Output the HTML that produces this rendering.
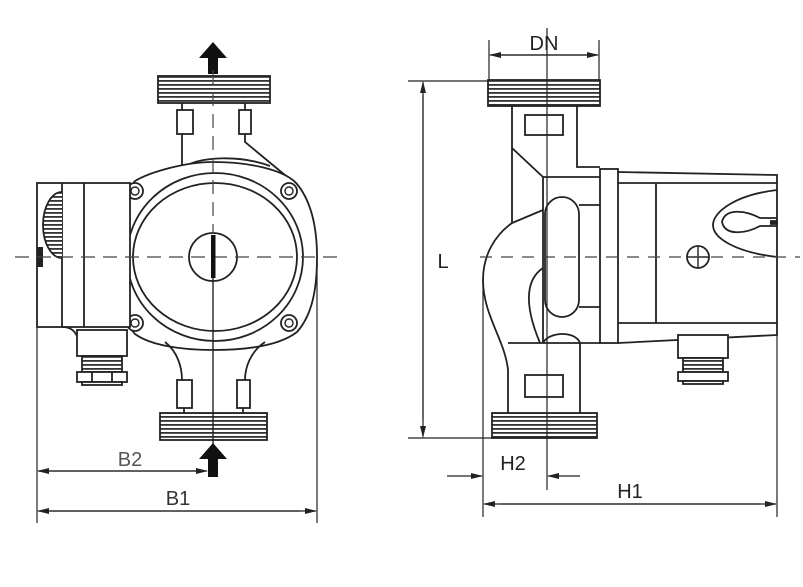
<!DOCTYPE html>
<html><head><meta charset="utf-8"><style>html,body{margin:0;padding:0;background:#fff}svg{display:block}</style></head><body>
<svg width="803" height="587" viewBox="0 0 803 587" xmlns="http://www.w3.org/2000/svg" font-family="Liberation Sans, sans-serif">
<defs>
<pattern id="st" width="4" height="4" patternUnits="userSpaceOnUse"><rect width="4" height="4" fill="#fff"/><rect y="0" width="4" height="1.8" fill="#333"/></pattern>
<marker id="ar" markerWidth="12" markerHeight="8" refX="11" refY="4" orient="auto" markerUnits="userSpaceOnUse"><path d="M0,1 L12,4 L0,7 Z" fill="#222"/></marker>
</defs>
<g fill="none" stroke="#222" stroke-width="1.8">
<!-- LEFT VIEW -->
<!-- top arrow -->
<path d="M213,42 L227,58 L218,58 L218,74 L208,74 L208,58 L199,58 Z" fill="#111" stroke="none"/>
<rect x="158" y="76" width="112" height="27" fill="url(#st)"/>
<line x1="182" y1="103" x2="182" y2="110"/><line x1="245" y1="103" x2="245" y2="110"/>
<rect x="177" y="110" width="16" height="24" fill="#fff"/>
<rect x="239" y="110" width="12" height="24" fill="#fff"/>
<path d="M182,134 L182,168"/>
<path d="M245,134 L245,142 L297,185"/>
<path d="M182,168 C200,156 240,155 270,166"/>
<!-- housing -->
<path d="M122,257 C122,215 126,190 135,181 C150,172 185,162 213,162 C250,162 285,170 297,184 C310,200 317,225 317,257 C317,290 312,315 297,332 C280,345 250,350 213,350 C180,350 150,345 135,334 C126,325 122,300 122,257 Z" fill="#fff"/>
<ellipse cx="215" cy="257" rx="88" ry="84"/>
<ellipse cx="215" cy="257" rx="82" ry="74"/>
<circle cx="213" cy="257" r="24"/>
<g fill="#fff"><circle cx="135" cy="191" r="8"/><circle cx="289" cy="191" r="8"/><circle cx="135" cy="323" r="8"/><circle cx="289" cy="323" r="8"/></g>
<g stroke-width="1.4"><circle cx="135" cy="191" r="4"/><circle cx="289" cy="191" r="4"/><circle cx="135" cy="323" r="4"/><circle cx="289" cy="323" r="4"/></g>
<!-- lower stems -->
<path d="M165,342 C178,352 182,368 182,380"/>
<path d="M265,342 C250,352 245,368 245,380"/>
<rect x="177" y="380" width="15" height="28" fill="#fff"/>
<rect x="237" y="380" width="13" height="28" fill="#fff"/>
<line x1="184" y1="408" x2="184" y2="413"/><line x1="243" y1="408" x2="243" y2="413"/>
<rect x="160" y="413" width="107" height="27" fill="url(#st)"/>
<!-- control box -->
<rect x="37" y="183" width="93" height="144" fill="#fff"/>
<line x1="62" y1="183" x2="62" y2="327"/><line x1="84" y1="183" x2="84" y2="327"/>
<path d="M62,192 A19,33 0 0 0 62,258" fill="url(#st)"/>
<rect x="37" y="247" width="6" height="20" fill="#222" stroke="none"/>
<path d="M62,327 C70,327 74,330 77,336"/>
<rect x="77" y="330" width="50" height="26" fill="#fff"/>
<rect x="82" y="356" width="40" height="16" fill="url(#st)"/>
<rect x="77" y="372" width="50" height="10" fill="#fff"/>
<line x1="92" y1="372" x2="92" y2="382"/><line x1="112" y1="372" x2="112" y2="382"/>
<rect x="82" y="382" width="40" height="3" fill="#fff"/>
<!-- centerlines -->
<line x1="15" y1="257" x2="345" y2="257" stroke="#444" stroke-width="1.2" stroke-dasharray="14,8"/>
<line x1="213" y1="70" x2="213" y2="234" stroke="#444" stroke-width="1.2" stroke-dasharray="14,8"/>
<line x1="213" y1="257" x2="213" y2="446" stroke-width="1.4"/>
<rect x="211" y="235" width="4.5" height="43" fill="#111" stroke="none"/>
<path d="M213,443 L227,459 L218,459 L218,477 L208,477 L208,459 L199,459 Z" fill="#111" stroke="none"/>
<!-- dims left -->
<g stroke-width="1.2">
<line x1="37" y1="327" x2="37" y2="523"/>
<line x1="317" y1="262" x2="317" y2="523"/>
<line x1="39" y1="471" x2="207" y2="471" marker-end="url(#ar)"/>
<line x1="200" y1="471" x2="38" y2="471" marker-end="url(#ar)"/>
<line x1="50" y1="511" x2="316" y2="511" marker-end="url(#ar)"/>
<line x1="300" y1="511" x2="38" y2="511" marker-end="url(#ar)"/>
</g>

<!-- RIGHT VIEW -->
<g stroke-width="1.2">
<line x1="489" y1="40" x2="489" y2="80"/><line x1="599" y1="40" x2="599" y2="80"/>
<line x1="500" y1="55" x2="598" y2="55" marker-end="url(#ar)"/>
<line x1="590" y1="55" x2="490" y2="55" marker-end="url(#ar)"/>
<line x1="408" y1="81" x2="490" y2="81"/><line x1="408" y1="438" x2="492" y2="438"/>
<line x1="423" y1="95" x2="423" y2="437" marker-end="url(#ar)"/>
<line x1="423" y1="420" x2="423" y2="82" marker-end="url(#ar)"/>
</g>
<!-- neck and body -->
<path d="M512,106 L512,223 C495,235 483,255 483,280 C483,315 505,340 508,370 L508,413" fill="#fff"/>
<path d="M577,106 L577,167 L600,167"/>
<path d="M512,148 L543,177 L600,177"/>
<line x1="543" y1="177" x2="543" y2="343"/>
<path d="M512,223 L543,210"/>
<path d="M543,268 C528,278 522,300 540,343"/>
<line x1="508" y1="343" x2="600" y2="343"/>
<path d="M543,343 C548,332 575,330 580,343"/>
<line x1="580" y1="343" x2="580" y2="413"/>
<rect x="545" y="197" width="34" height="120" rx="17" fill="#fff"/>
<line x1="579" y1="205" x2="600" y2="205"/><line x1="579" y1="307" x2="600" y2="307"/>
<rect x="525" y="115" width="38" height="20" fill="#fff"/>
<rect x="525" y="375" width="38" height="22" fill="#fff"/>
<rect x="488" y="80" width="112" height="26" fill="url(#st)"/>
<rect x="492" y="413" width="105" height="25" fill="url(#st)"/>
<rect x="600" y="169" width="18" height="174" fill="#fff"/>
<!-- motor -->
<path d="M618,172 L777,175 L777,335 L618,343"/>
<line x1="618" y1="183" x2="777" y2="183"/>
<line x1="618" y1="323" x2="777" y2="323"/>
<line x1="656" y1="183" x2="656" y2="323"/>
<path d="M777,190 C735,195 713,212 713,225 C713,238 735,252 777,257"/>
<path d="M777,218 L760,218 C745,210 725,208 722,222 C725,236 745,234 760,226 L777,226"/>
<path d="M770,221 L777,221 L777,224 L770,224" fill="#222"/>
<circle cx="698" cy="257" r="11"/>
<line x1="687" y1="257" x2="709" y2="257" stroke-width="1.4"/><line x1="698" y1="246" x2="698" y2="268" stroke-width="1.4"/>
<rect x="678" y="335" width="50" height="23" fill="#fff"/>
<rect x="683" y="358" width="40" height="14" fill="url(#st)"/>
<rect x="678" y="372" width="50" height="9" fill="#fff"/>
<rect x="683" y="381" width="40" height="3" fill="#fff"/>
<line x1="480" y1="257" x2="800" y2="257" stroke="#444" stroke-width="1.2" stroke-dasharray="12,9"/>
<g stroke-width="1.2">
<line x1="547" y1="28" x2="547" y2="490"/>
<line x1="483" y1="280" x2="483" y2="517"/>
<line x1="777" y1="335" x2="777" y2="517"/>
<line x1="447" y1="476" x2="482" y2="476" marker-end="url(#ar)"/>
<line x1="580" y1="476" x2="548" y2="476" marker-end="url(#ar)"/>
<line x1="500" y1="504" x2="776" y2="504" marker-end="url(#ar)"/>
<line x1="760" y1="504" x2="484" y2="504" marker-end="url(#ar)"/>
</g>
</g>
<g fill="#222" font-size="20" text-anchor="middle">
<text x="130" y="466" fill="#555">B2</text>
<text x="178" y="505" fill="#333">B1</text>
<text x="544" y="50">DN</text>
<text x="443" y="268">L</text>
<text x="513" y="470">H2</text>
<text x="630" y="498">H1</text>
</g>
</svg>
</body></html>
